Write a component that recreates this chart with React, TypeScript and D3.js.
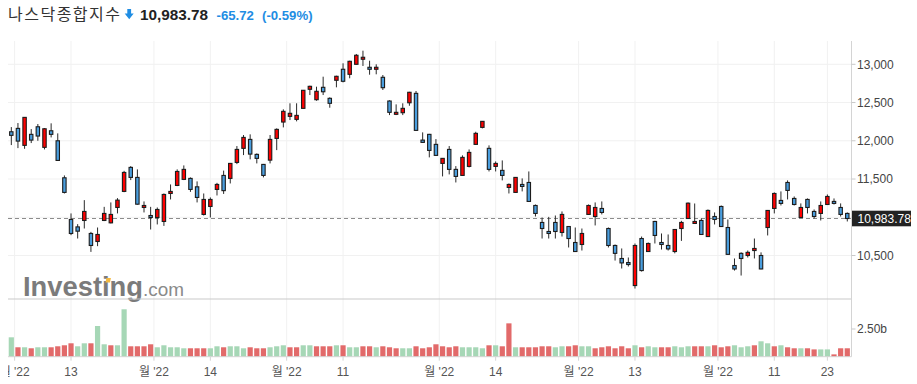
import * as d3 from "d3";
import React from "react";

// 나스닥종합지수, daily candles (index 0 = 2022-05-31 ... 126 = 2022-11-29)
const opens = [
  12118, 12162, 11940, 12084, 12183, 11914, 12131, 12000, 11516, 10971,
  10874, 10958, 10788, 10683, 10958, 10927, 11128, 11338, 11652, 11521,
  11128, 11023, 10997, 10945, 11311, 11416, 11495, 11508, 11398, 11037,
  11141, 11364, 11547, 11508, 11717, 11901, 12018, 11822, 11691, 11747,
  12031, 12245, 12319, 12280, 12424, 12673, 12537, 12699, 12555, 12791,
  12935, 12869, 13000, 13066, 12961, 12935, 12830, 12520, 12346, 12367,
  12497, 12620, 12009, 12084, 11953, 11704, 11887, 11626, 11547, 11665,
  11953, 12175, 11901, 11665, 11613, 11390, 11325, 11429, 11455, 11154,
  10932, 10814, 10932, 10801, 10879, 10670, 10644, 11037, 11010, 11115,
  10853, 10631, 10461, 10408, 10107, 10722, 10552, 10945, 10670, 10631,
  10552, 10853, 10984, 10919, 10958, 10748, 11010, 11141, 10866, 10369,
  10528, 10500, 10565, 10500, 10866, 11115, 11220, 11455, 11246, 10997,
  11233, 11076, 11050, 11167, 11207, 11128, 11050,
];
const highs = [
  12179, 12232, 12310, 12153, 12219, 12166, 12228, 12097, 11547, 11050,
  10910, 11224, 10809, 10866, 11136, 11194, 11250, 11607, 11669, 11626,
  11207, 11136, 11128, 11311, 11429, 11626, 11678, 11521, 11469, 11311,
  11259, 11450, 11610, 11710, 11931, 12075, 12084, 11835, 11697, 12075,
  12162, 12411, 12490, 12490, 12664, 12720, 12707, 12838, 12568, 12851,
  13013, 13047, 13135, 13178, 13047, 13000, 12860, 12529, 12476, 12490,
  12640, 12651, 12110, 12090, 12022, 11775, 11931, 11669, 11809, 11887,
  12118, 12258, 11940, 11730, 11743, 11442, 11525, 11508, 11599, 11167,
  10997, 11005, 11023, 11076, 10885, 10866, 10853, 11167, 11194, 11207,
  10866, 10644, 10592, 10474, 10657, 10748, 10670, 10953, 10788, 10775,
  10845, 10953, 11194, 11180, 10984, 11102, 11063, 11154, 10971, 10461,
  10541, 10565, 10722, 10541, 11095, 11325, 11338, 11482, 11272, 11181,
  11246, 11102, 11207, 11298, 11246, 11181, 11063,
];
const lows = [
  11944, 11904, 11895, 11970, 12000, 11887, 12044, 11740, 11311, 10766,
  10722, 10853, 10547, 10622, 10950, 10920, 11050, 11328, 11486, 11165,
  11063, 10840, 10906, 10887, 11233, 11407, 11486, 11332, 11194, 11023,
  10997, 11285, 11305, 11442, 11695, 11813, 11757, 11704, 11521, 11704,
  11878, 12175, 12271, 12254, 12421, 12598, 12524, 12598, 12432, 12699,
  12764, 12817, 12995, 12978, 12864, 12869, 12664, 12336, 12336, 12336,
  12458, 12130, 11975, 11783, 11805, 11534, 11560, 11455, 11540, 11652,
  11948, 12162, 11599, 11599, 11482, 11311, 11320, 11338, 11200, 11010,
  10722, 10722, 10722, 10748, 10605, 10547, 10565, 11030, 10893, 11037,
  10605, 10434, 10330, 10356, 10068, 10290, 10547, 10657, 10578, 10565,
  10528, 10691, 10978, 10912, 10768, 10742, 10906, 10873, 10509, 10303,
  10238, 10474, 10461, 10320, 10762, 11050, 11154, 11233, 11154, 10990,
  11050, 10984, 10958, 11160, 11167, 11010, 10945,
];
const closes = [
  12071, 11996, 12306, 12009, 12062, 12157, 12084, 11743, 11325, 10788,
  10818, 11076, 10631, 10775, 11050, 11037, 11224, 11586, 11521, 11171,
  11154, 10997, 11102, 11298, 11338, 11599, 11626, 11364, 11259, 11233,
  11233, 11429, 11348, 11704, 11887, 12044, 11826, 11770, 11547, 12018,
  12149, 12385, 12359, 12332, 12660, 12712, 12647, 12641, 12490, 12843,
  12778, 13039, 13118, 13092, 12935, 12961, 12694, 12372, 12372, 12424,
  12634, 12136, 11979, 11874, 11809, 11770, 11626, 11534, 11783, 11848,
  12097, 12254, 11626, 11704, 11547, 11429, 11521, 11403, 11207, 11050,
  10853, 10788, 10814, 11037, 10722, 10552, 10788, 11154, 11128, 11063,
  10631, 10528, 10403, 10382, 10631, 10303, 10657, 10762, 10644, 10586,
  10840, 10932, 11184, 10945, 10775, 11089, 10971, 10879, 10515, 10324,
  10461, 10541, 10592, 10324, 11089, 11311, 11181, 11351, 11167, 11128,
  11128, 11010, 11154, 11272, 11181, 11037, 10983.78,
];

// volume in billions, and its bar colour (1 = green, 0 = red)
const volumes = [
  1.75, 0.85, 0.85, 0.76, 0.85, 0.85, 0.85, 0.94, 1.03, 1.21,
  0.94, 1.21, 1.21, 2.77, 1.12, 1.03, 1.03, 4.28, 0.94, 0.94,
  0.94, 1.12, 0.85, 1.03, 0.85, 0.85, 0.76, 0.76, 0.76, 0.76,
  0.76, 0.94, 0.85, 0.94, 0.94, 0.76, 0.85, 0.76, 0.76, 0.85,
  0.94, 1.03, 0.85, 0.85, 1.03, 1.03, 0.94, 0.94, 0.94, 1.03,
  1.03, 0.85, 0.85, 0.94, 0.94, 0.85, 0.94, 0.85, 0.76, 0.76,
  0.76, 0.94, 0.76, 0.85, 1.12, 0.94, 0.85, 0.94, 0.85, 0.85,
  0.85, 0.76, 1.03, 1.03, 0.94, 3.01, 0.85, 0.85, 0.85, 0.85,
  0.94, 0.94, 0.85, 0.94, 0.94, 1.03, 0.94, 0.94, 0.76, 0.85,
  0.94, 0.76, 0.94, 0.76, 1.03, 0.85, 0.94, 0.85, 0.85, 0.85,
  0.94, 0.85, 0.94, 0.94, 0.94, 0.94, 1.03, 0.85, 0.94, 1.03,
  0.85, 0.94, 1.03, 1.39, 1.21, 0.94, 1.03, 0.85, 0.76, 0.76,
  0.76, 0.66, 0.66, 0.66, 0.21, 0.76, 0.76,
];
const volumeUp = [
  1, 0, 1, 0, 1, 1, 0, 0, 0, 0,
  1, 1, 0, 1, 1, 0, 1, 1, 0, 0,
  0, 0, 1, 1, 1, 1, 1, 0, 0, 0,
  1, 1, 0, 1, 1, 1, 0, 0, 0, 1,
  1, 1, 0, 0, 1, 1, 0, 0, 0, 1,
  0, 1, 1, 0, 0, 1, 0, 0, 0, 1,
  1, 0, 0, 0, 0, 0, 0, 0, 1, 1,
  1, 1, 0, 1, 0, 0, 1, 0, 0, 0,
  0, 0, 1, 1, 0, 0, 1, 1, 0, 0,
  0, 0, 0, 0, 1, 0, 1, 1, 0, 0,
  1, 1, 1, 0, 0, 1, 0, 0, 0, 1,
  1, 1, 0, 1, 1, 0, 1, 0, 0, 1,
  0, 0, 1, 1, 0, 0, 0,
];

// x-axis: candle index of each label; month labels sit on the band edge
const xTickIndex = [1, 9, 22, 30, 42, 50, 65, 73, 86, 94, 107, 115, 123];
const xTickMonth = [true, false, true, false, true, false, true, false, true, false, true, false, false];
const xTickLabels = ["월 '22", "13", "월 '22", "14", "월 '22", "11", "월 '22", "14", "월 '22", "13", "월 '22", "11", "23"];
const priceTicks = [10500, 11000, 11500, 12000, 12500, 13000];
const volumeTicks = [2.5];

const title = "나스닥종합지수";
const lastPrice = 10983.78;
const change = -65.72;
const changePct = -0.59;

const W = 917;
const H = 384;
const plotLeft = 8;
const plotRight = 851.5;
const plotTop = 41;
const priceBottom = 299;
const volBottom = 356.7;

const FONT = "'Liberation Sans', Arial, 'Noto Sans CJK KR', sans-serif";
const UP = "#ff0000";
const DOWN = "#4a9ede";
const VOL_UP = "#a6d7b6";
const VOL_DOWN = "#e26a6a";
const BLUE_TXT = "#1f8de3";

const App = () => {
  const idx = d3.range(closes.length);
  const x = d3.scaleBand<number>().domain(idx).range([plotLeft, 850.6]).padding(0);
  const cx = (i: number) => (x(i) ?? 0) + x.bandwidth() / 2;
  const y = d3.scaleLinear().domain([10500, 13000]).range([255.5, 64.3]);
  const yv = d3.scaleLinear().domain([0, 2.5]).range([volBottom, 329]);
  const fmt = d3.format(",");
  const fmt2 = d3.format(",.2f");

  const tickX = xTickIndex.map((t, k) => cx(t) - (xTickMonth[k] ? x.step() / 2 : 0));
  const bodyW = 3.4;
  const volW = 5.2;
  // the last-price tag hides any axis label it sits on
  const shownPriceTicks = priceTicks.filter((t) => Math.abs(y(t) - y(lastPrice)) > 12);

  return (
    <svg
      width={W}
      height={H}
      style={{ position: "absolute", left: 0, top: 0, background: "#fff" }}
      fontFamily={FONT}
    >
      <defs>
        <clipPath id="xlab">
          <rect x={plotLeft} y={358} width={plotRight - plotLeft + 4} height={26} />
        </clipPath>
      </defs>

      {/* header */}
      <text
        x={8}
        y={19.5}
        fontSize={16}
        fill="#333"
        fontFamily="'Noto Sans CJK KR', sans-serif"
        textLength={112}
        lengthAdjust="spacing"
      >
        {title}
      </text>
      <path d="M127.3,9 h3.8 v4.6 h2.6 l-4.5,5.6 l-4.5,-5.6 h2.6 z" fill={BLUE_TXT} />
      <text x={140} y={19.5} fontSize={15.3} fontWeight="bold" fill="#222">
        {fmt2(lastPrice)}
      </text>
      <text x={216.5} y={19.5} fontSize={13.2} fontWeight="bold" fill={BLUE_TXT}>
        {change.toFixed(2)}
      </text>
      <text x={262} y={19.5} fontSize={13.2} fontWeight="bold" fill={BLUE_TXT}>
        {`(${changePct.toFixed(2)}%)`}
      </text>

      {/* grid */}
      {priceTicks.map((t) => (
        <line key={t} x1={plotLeft} x2={plotRight} y1={y(t)} y2={y(t)} stroke="#f1f1f1" />
      ))}
      {tickX.map((tx, k) => (
        <line key={k} x1={tx} x2={tx} y1={plotTop} y2={volBottom} stroke="#f1f1f1" />
      ))}

      {/* watermark */}
      <text x={23} y={296} fontSize={27} fontWeight="bold" fill="#7b7b7b" textLength={120} lengthAdjust="spacingAndGlyphs">
        Investing
      </text>
      <rect x={105.5} y={278} width={4.5} height={4.5} fill="#f4b942" transform="skewX(-12) translate(60,0)" />
      <text x={143} y={296} fontSize={19} fill="#8a8a8a" textLength={41} lengthAdjust="spacingAndGlyphs">
        .com
      </text>

      {/* last price dashed line */}
      <line x1={plotLeft} x2={plotRight} y1={y(lastPrice)} y2={y(lastPrice)} stroke="#8c8c8c" strokeDasharray="4,3" />

      {/* candles */}
      {idx.map((i) => {
        const o = opens[i];
        const c = closes[i];
        const up = c > o;
        const top = y(Math.max(o, c));
        const bot = y(Math.min(o, c));
        return (
          <g key={i}>
            <line x1={cx(i)} x2={cx(i)} y1={y(highs[i])} y2={y(lows[i])} stroke="#2a2a2a" strokeWidth={1} />
            <rect
              x={cx(i) - bodyW / 2}
              y={top}
              width={bodyW}
              height={Math.max(bot - top, 1.2)}
              fill={up ? UP : DOWN}
              stroke="#1c1c1c"
              strokeWidth={1.1}
            />
          </g>
        );
      })}

      {/* volume */}
      {idx.map((i) => (
        <rect
          key={i}
          x={cx(i) - volW / 2}
          y={yv(volumes[i])}
          width={volW}
          height={volBottom - yv(volumes[i])}
          fill={volumeUp[i] ? VOL_UP : VOL_DOWN}
        />
      ))}

      {/* panel borders */}
      <line x1={plotLeft} x2={plotRight} y1={priceBottom} y2={priceBottom} stroke="#c9c9c9" />
      <line x1={plotLeft} x2={plotRight} y1={volBottom} y2={volBottom} stroke="#d4d4d4" />
      <line x1={plotRight} x2={plotRight} y1={plotTop} y2={volBottom} stroke="#d4d4d4" />

      {/* right axis */}
      {priceTicks.map((t) => (
        <line key={t} x1={plotRight} x2={plotRight + 4} y1={y(t)} y2={y(t)} stroke="#c9c9c9" />
      ))}
      {shownPriceTicks.map((t) => (
        <text key={t} x={857} y={y(t) + 4.2} fontSize={12} fill="#444">
          {fmt(t)}
        </text>
      ))}
      {volumeTicks.map((t) => (
        <g key={t}>
          <line x1={plotRight} x2={plotRight + 4} y1={yv(t)} y2={yv(t)} stroke="#c9c9c9" />
          <text x={857} y={yv(t) + 4.2} fontSize={12} fill="#444">
            {`${t.toFixed(2)}b`}
          </text>
        </g>
      ))}

      {/* last price label */}
      <rect x={852} y={y(lastPrice) - 7.8} width={59} height={15.6} fill="#232323" />
      <text x={857.5} y={y(lastPrice) + 4.3} fontSize={12} fill="#fff">
        {fmt2(lastPrice)}
      </text>

      {/* x axis */}
      {tickX.map((tx, k) => (
        <line key={k} x1={tx} x2={tx} y1={volBottom} y2={volBottom + 4} stroke="#d4d4d4" />
      ))}
      <g clipPath="url(#xlab)">
        {tickX.map((tx, k) => (
          <text key={k} x={tx} y={376} fontSize={12} fill="#555" textAnchor="middle">
            {xTickLabels[k]}
          </text>
        ))}
      </g>
    </svg>
  );
};

export default App;
